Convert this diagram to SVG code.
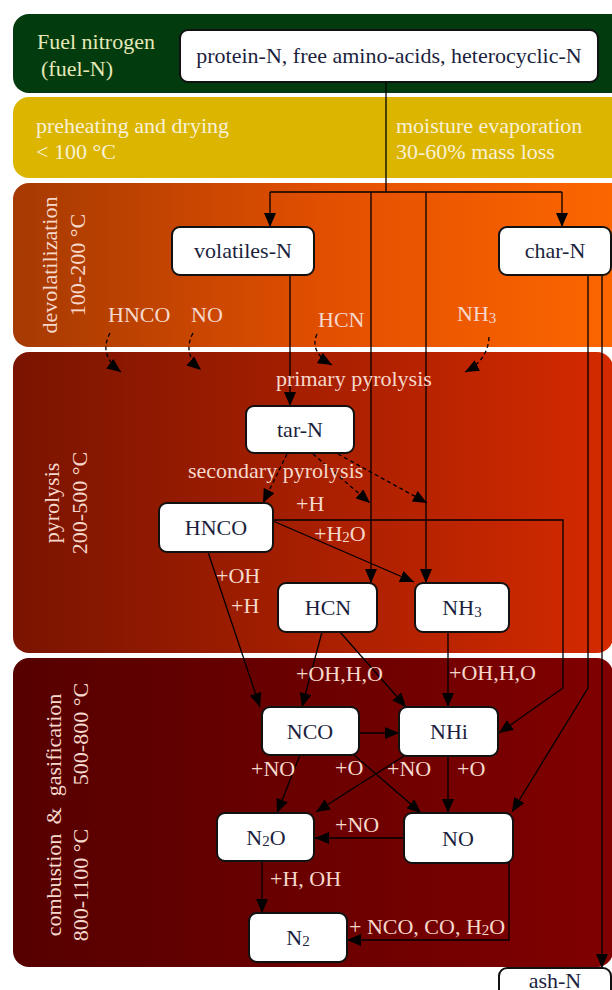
<svg xmlns="http://www.w3.org/2000/svg" width="612" height="990" viewBox="0 0 612 990" font-family="'Liberation Serif', 'Times New Roman', serif">
<defs>
<linearGradient id="gOrange" x1="0" y1="0" x2="1" y2="0"><stop offset="0" stop-color="#a63a02"/><stop offset="0.5" stop-color="#e24f00"/><stop offset="1" stop-color="#ff6800"/></linearGradient>
<linearGradient id="gPyro" x1="0" y1="0" x2="1" y2="0"><stop offset="0" stop-color="#7a1400"/><stop offset="1" stop-color="#d42a00"/></linearGradient>
<linearGradient id="gComb" x1="0" y1="0" x2="1" y2="0"><stop offset="0" stop-color="#560000"/><stop offset="1" stop-color="#800000"/></linearGradient>
<marker id="ah" markerUnits="userSpaceOnUse" markerWidth="14" markerHeight="12" refX="14" refY="6" orient="auto"><path d="M0,0 L14,6 L0,12 z" fill="#000"/></marker>
</defs>
<style>
text{font-family:'Liberation Serif','Times New Roman',serif;font-size:22px}
.node rect{fill:#fff;stroke:#111;stroke-width:2}
.node text{fill:#1c1f3e;text-anchor:middle}
.lbl{fill:#f6d8cc}
.lg{fill:#e6e8b8}
.ly{fill:#f8f1d6}
.c{fill:none;stroke:#000;stroke-width:1.3}
.a{marker-end:url(#ah)}
.d{stroke-dasharray:4 3}
.sub{font-size:15px}
</style>
<g id="bands">
<rect x="13" y="14" width="630" height="79" rx="16" fill="#023b0d"/>
<rect x="13" y="97" width="630" height="81" rx="16" fill="#dcb500"/>
<rect x="13" y="183" width="630" height="164" rx="16" fill="url(#gOrange)"/>
<rect x="13" y="352" width="600" height="301" rx="16" fill="url(#gPyro)"/>
<rect x="13" y="658" width="600" height="309" rx="16" fill="url(#gComb)"/>
</g>
<g id="stage-labels">
<text class="lg" x="37" y="49">Fuel nitrogen</text>
<text class="lg" x="41" y="76">(fuel-N)</text>
<text class="ly" x="36" y="133">preheating and drying</text>
<text class="ly" x="36" y="159">&lt; 100 °C</text>
<text class="ly" x="396" y="133">moisture evaporation</text>
<text class="ly" x="396" y="159">30-60% mass loss</text>
<text class="lbl" text-anchor="middle" transform="translate(57,265) rotate(-90)">devolatilization</text>
<text class="lbl" text-anchor="middle" transform="translate(85,265) rotate(-90)">100-200 °C</text>
<text class="lbl" text-anchor="middle" transform="translate(59,503) rotate(-90)">pyrolysis</text>
<text class="lbl" text-anchor="middle" transform="translate(87,503) rotate(-90)">200-500 °C</text>
<text class="lbl" text-anchor="middle" transform="translate(61,745) rotate(-90)">gasification</text>
<text class="lbl" text-anchor="middle" transform="translate(61,816) rotate(-90)">&amp;</text>
<text class="lbl" text-anchor="middle" transform="translate(61,885) rotate(-90)">combustion</text>
<text class="lbl" text-anchor="middle" transform="translate(88,734) rotate(-90)">500-800 °C</text>
<text class="lbl" text-anchor="middle" transform="translate(88,885) rotate(-90)">800-1100 °C</text>
</g>
<g id="connectors">
<path class="c" d="M386,82 V192 M270,192 H562"/>
<path class="c a" d="M270,192 V227"/>
<path class="c a" d="M562,192 V227"/>
<path class="c a" d="M371,192 V583"/>
<path class="c a" d="M426,192 V583"/>
<path class="c a" d="M290,275 V406"/>
<path class="c a" d="M588,275 V688 L512,812"/>
<path class="c a" d="M602,275 V968"/>
<path class="c a" d="M273,520 H563 V688 L499,733"/>
<path class="c a" d="M273,521 L414,582"/>
<path class="c a" d="M208,552 L260,707"/>
<path class="c a" d="M322,632 L302,707"/>
<path class="c a" d="M340,632 L406,707"/>
<path class="c a" d="M448,632 V707"/>
<path class="c a" d="M359,733 H399"/>
<path class="c a" d="M300,755 L277,813"/>
<path class="c a" d="M354,755 L421,813"/>
<path class="c a" d="M404,756 L316,812"/>
<path class="c a" d="M448,756 V813"/>
<path class="c a" d="M404,838 H315"/>
<path class="c a" d="M262,861 V913"/>
<path class="c a" d="M509,863 V940 H347"/>
<path class="c a d" d="M287,454 L263,503"/>
<path class="c a d" d="M313,454 L370,503"/>
<path class="c a d" d="M338,454 L427,503"/>
<path class="c a d" d="M110,333 Q98,355 121,372"/>
<path class="c a d" d="M193,333 Q182,354 201,370"/>
<path class="c a d" d="M317,334 Q309,352 332,365"/>
<path class="c a d" d="M489,337 Q488,360 465,372"/>
</g>
<g id="edge-labels">
<text class="lbl" x="108" y="322">HNCO</text>
<text class="lbl" x="191" y="322">NO</text>
<text class="lbl" x="318" y="327">HCN</text>
<text class="lbl" x="457" y="321">NH<tspan class="sub" dy="2">3</tspan></text>
<text class="lbl" x="276" y="386">primary pyrolysis</text>
<text class="lbl" x="188" y="478">secondary pyrolysis</text>
<text class="lbl" x="296" y="511">+H</text>
<text class="lbl" x="314" y="541">+H<tspan class="sub" dy="1">2</tspan><tspan dy="-1">O</tspan></text>
<text class="lbl" x="216" y="583">+OH</text>
<text class="lbl" x="231" y="613">+H</text>
<text class="lbl" x="296" y="681">+OH,H,O</text>
<text class="lbl" x="449" y="680">+OH,H,O</text>
<text class="lbl" x="251" y="776">+NO</text>
<text class="lbl" x="335" y="775">+O</text>
<text class="lbl" x="387" y="776">+NO</text>
<text class="lbl" x="457" y="776">+O</text>
<text class="lbl" x="335" y="832">+NO</text>
<text class="lbl" x="270" y="886">+H, OH</text>
<text class="lbl" x="349" y="934">+ NCO, CO, H<tspan class="sub" dy="1">2</tspan><tspan dy="-1">O</tspan></text>
</g>
<g id="fuel" class="node"><rect x="180" y="30" width="418" height="52" rx="8"/><text x="389" y="63">protein-N, free amino-acids, heterocyclic-N</text></g>
<g id="volatiles" class="node"><rect x="172" y="227" width="142" height="48" rx="8"/><text x="243" y="258">volatiles-N</text></g>
<g id="char" class="node"><rect x="499" y="227" width="112" height="48" rx="8"/><text x="555" y="258">char-N</text></g>
<g id="tar" class="node"><rect x="246" y="406" width="108" height="47" rx="8"/><text x="300" y="437">tar-N</text></g>
<g id="hnco" class="node"><rect x="159" y="503" width="114" height="49" rx="8"/><text x="216" y="535">HNCO</text></g>
<g id="hcn" class="node"><rect x="278" y="583" width="99" height="49" rx="8"/><text x="328" y="615">HCN</text></g>
<g id="nh3" class="node"><rect x="415" y="583" width="94" height="49" rx="8"/><text x="462" y="615">NH<tspan class="sub" dy="2">3</tspan></text></g>
<g id="nco" class="node"><rect x="262" y="707" width="97" height="48" rx="8"/><text x="310" y="739">NCO</text></g>
<g id="nhi" class="node"><rect x="399" y="707" width="99" height="49" rx="8"/><text x="449" y="739">NHi</text></g>
<g id="n2o" class="node"><rect x="217" y="813" width="97" height="48" rx="8"/><text x="266" y="845">N<tspan class="sub" dy="1">2</tspan><tspan dy="-1">O</tspan></text></g>
<g id="no" class="node"><rect x="404" y="813" width="109" height="50" rx="8"/><text x="458" y="846">NO</text></g>
<g id="n2" class="node"><rect x="249" y="913" width="98" height="49" rx="8"/><text x="298" y="945">N<tspan class="sub" dy="1">2</tspan></text></g>
<g id="ash" class="node"><rect x="499" y="968" width="112" height="40" rx="8"/><text x="555" y="988">ash-N</text></g>
</svg>
